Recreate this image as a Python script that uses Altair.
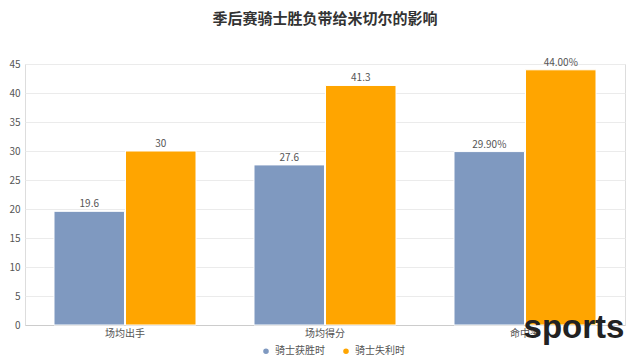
import altair as alt
import pandas as pd

categories = ["场均出手", "场均得分", "命中率"]
series = ["骑士获胜时", "骑士失利时"]
win_values = [19.6, 27.6, 29.9]
lose_values = [30, 41.3, 44.0]
win_labels = ["19.6", "27.6", "29.90%"]
lose_labels = ["30", "41.3", "44.00%"]

rows = []
for i, c in enumerate(categories):
    rows.append({"cat": c, "series": series[0], "value": win_values[i], "label": win_labels[i]})
    rows.append({"cat": c, "series": series[1], "value": lose_values[i], "label": lose_labels[i]})
df = pd.DataFrame(rows)

FONT = "Noto Sans CJK SC"

x = alt.X("cat:N", sort=categories, title=None,
          scale=alt.Scale(paddingInner=0.29, paddingOuter=0.145),
          axis=alt.Axis(labelAngle=0, labelColor="#555", labelFontSize=10, ticks=False,
                        domainColor="#ccc", labelPadding=3, labelFont=FONT))
y = alt.Y("value:Q", title=None,
          scale=alt.Scale(domain=[0, 45], nice=False),
          axis=alt.Axis(values=list(range(0, 50, 5)), labelColor="#555", labelFontSize=10,
                        domain=False, ticks=False, gridColor="#ebebeb", labelPadding=5,
                        labelFont=FONT))
xo = alt.XOffset("series:N", sort=series, scale=alt.Scale(paddingInner=0.014))
color = alt.Color("series:N", sort=series,
                  scale=alt.Scale(domain=series, range=["#7f99c0", "#ffa500"]),
                  legend=alt.Legend(title=None, orient="none", legendX=236, legendY=282,
                                    direction="horizontal", symbolType="circle",
                                    symbolSize=50, labelFontSize=10, labelColor="#555",
                                    labelFont=FONT, columnPadding=14, labelOffset=4))

base = alt.Chart(df)
bars = base.mark_bar(stroke="white", strokeWidth=1).encode(x=x, y=y, xOffset=xo, color=color)
texts = base.mark_text(dy=-7, fontSize=10, color="#555", font=FONT).encode(
    x=x, y=y, xOffset=xo, text="label:N")

wm = alt.Chart(pd.DataFrame({"t": ["sports"]})).mark_text(
    fontSize=33, fontWeight="bold", color="#222", font="Liberation Sans", align="center",
    baseline="alphabetic").encode(x=alt.value(549), y=alt.value(274), text="t:N")

chart = alt.layer(bars, texts, wm).properties(
    width=600, height=261,
    title=alt.Title("季后赛骑士胜负带给米切尔的影响", fontSize=15, font=FONT, fontWeight="bold",
                    color="#333", anchor="middle", offset=31),
    padding={"left": 17, "top": 56, "right": 7, "bottom": 36},
    autosize=alt.AutoSizeParams(type="none"),
).configure_view(stroke=None).configure(background="white")

chart.save("out.html", embed_options={"renderer": "svg", "actions": False})
